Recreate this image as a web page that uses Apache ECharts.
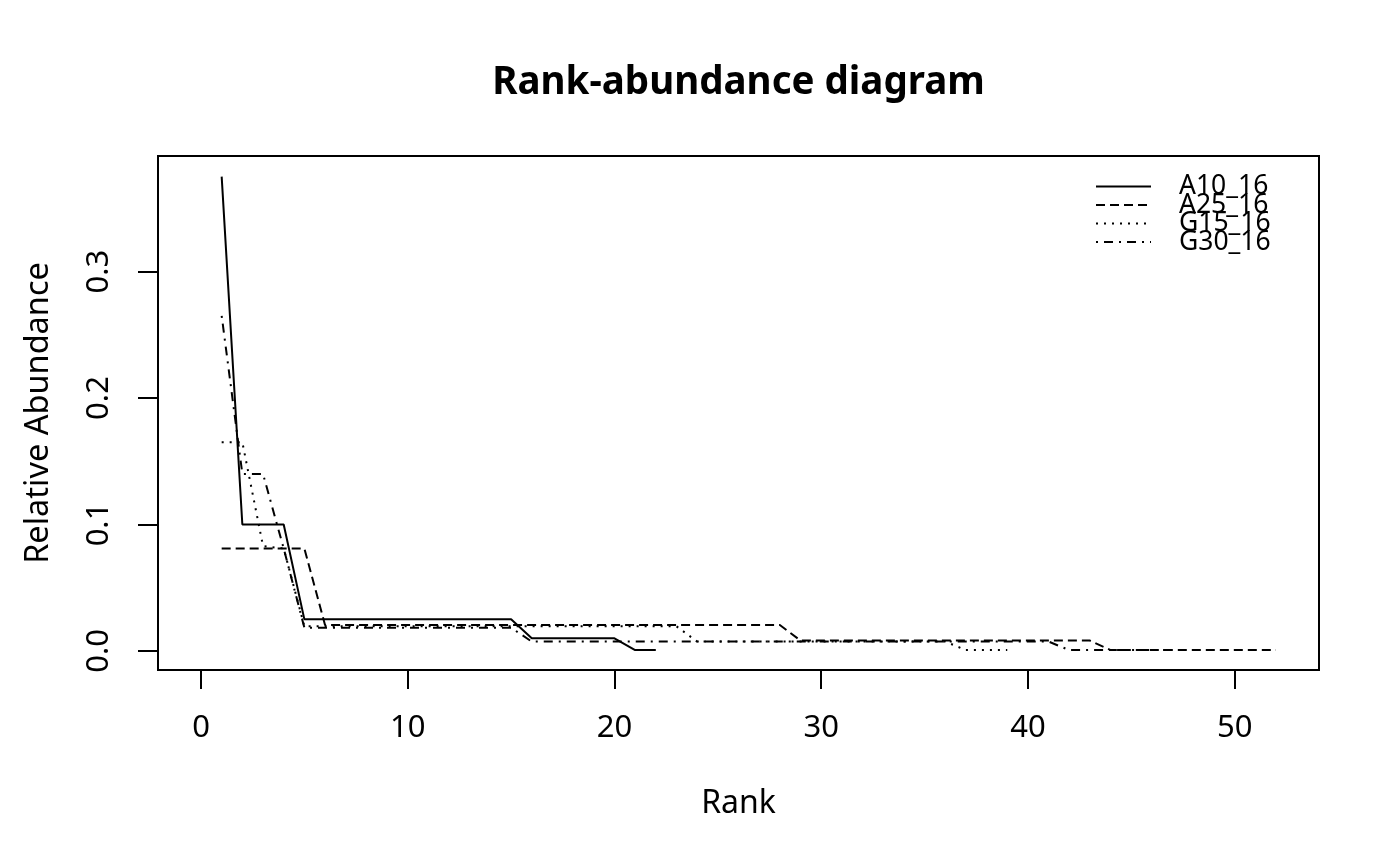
<!DOCTYPE html>
<html>
<head>
<meta charset="utf-8">
<script src="https://cdn.jsdelivr.net/npm/echarts@6/dist/echarts.min.js"></script>
<style>
html,body{margin:0;padding:0;background:#fff;}
#chart{width:1400px;height:866px;}
</style>
</head>
<body>
<div id="chart"></div>
<script>
// ---- data ----
const seriesNames = ['A10_16', 'A25_16', 'G15_16', 'G30_16'];

const A10_16 = [0.375, 0.1, 0.1, 0.1,
  0.025, 0.025, 0.025, 0.025, 0.025, 0.025, 0.025, 0.025, 0.025, 0.025, 0.025,
  0.01, 0.01, 0.01, 0.01, 0.01,
  0.0007, 0.0007];

const A25_16 = [0.081, 0.081, 0.081, 0.081, 0.081,
  0.0205, 0.0205, 0.0205, 0.0205, 0.0205, 0.0205, 0.0205, 0.0205, 0.0205, 0.0205,
  0.0205, 0.0205, 0.0205, 0.0205, 0.0205, 0.0205, 0.0205, 0.0205, 0.0205, 0.0205,
  0.0205, 0.0205, 0.0205,
  0.0082, 0.0082, 0.0082, 0.0082, 0.0082, 0.0082, 0.0082, 0.0082, 0.0082, 0.0082,
  0.0082, 0.0082, 0.0082, 0.0082, 0.0082,
  0.0007, 0.0007, 0.0007, 0.0007, 0.0007, 0.0007, 0.0007, 0.0007, 0.0007];

const G15_16 = [0.165, 0.165, 0.083, 0.081,
  0.0195, 0.0195, 0.0195, 0.0195, 0.0195, 0.0195, 0.0195, 0.0195, 0.0195, 0.0195,
  0.0195, 0.0195, 0.0195, 0.0195, 0.0195, 0.0195, 0.0195, 0.0195, 0.0195,
  0.0074, 0.0074, 0.0074, 0.0074, 0.0074, 0.0074, 0.0074, 0.0074, 0.0074, 0.0074,
  0.0074, 0.0074, 0.0074,
  0.0007, 0.0007, 0.0007];

const G30_16 = [0.265, 0.14, 0.14, 0.081,
  0.0184, 0.0184, 0.0184, 0.0184, 0.0184, 0.0184, 0.0184, 0.0184, 0.0184, 0.0184, 0.0184,
  0.0074, 0.0074, 0.0074, 0.0074, 0.0074, 0.0074, 0.0074, 0.0074, 0.0074, 0.0074,
  0.0074, 0.0074, 0.0074, 0.0074, 0.0074, 0.0074, 0.0074, 0.0074, 0.0074, 0.0074,
  0.0074, 0.0074, 0.0074, 0.0074, 0.0074, 0.0074,
  0.0007, 0.0007, 0.0007, 0.0007, 0.0007, 0.0007];

const xTicks = [0, 10, 20, 30, 40, 50];
const yTicks = [0, 0.1, 0.2, 0.3];
const yTickLabels = ['0.0', '0.1', '0.2', '0.3'];

// ---- chart ----
const FONT = 'Noto Sans';
const values = [A10_16, A25_16, G15_16, G30_16];
const dashes = ['solid', [9, 5], [2, 6], [2, 6, 9, 6]];

const chart = echarts.init(document.getElementById('chart'), null, {renderer: 'canvas'});

const series = seriesNames.map((name, i) => ({
  name: name,
  type: 'line',
  symbol: 'none',
  showSymbol: false,
  data: values[i].map((v, k) => [k + 1, v]),
  lineStyle: {color: '#000', width: 2, type: dashes[i]},
  itemStyle: {color: '#000'},
  emphasis: {disabled: true},
  animation: false
}));

chart.setOption({
  animation: false,
  backgroundColor: '#fff',
  textStyle: {fontFamily: FONT, color: '#000'},
  title: {
    text: 'Rank-abundance diagram',
    left: 733.5,
    textAlign: 'center',
    top: 55,
    textStyle: {fontFamily: FONT, fontSize: 38.5, fontWeight: 'bold', color: '#000', lineHeight: 46}
  },
  grid: {
    left: 158, right: 81, top: 156, bottom: 196,
    show: true, borderColor: '#000', borderWidth: 2, backgroundColor: 'transparent'
  },
  legend: {
    orient: 'vertical',
    left: 1095,
    top: 173,
    padding: 0,
    itemWidth: 55,
    itemHeight: 18,
    itemGap: -8.5,
    selectedMode: false,
    data: seriesNames,
    itemStyle: {opacity: 0},
    textStyle: {fontFamily: FONT, fontSize: 26.5, color: '#000', lineHeight: 18, padding: [0, 0, 0, 23]}
  },
  xAxis: {
    type: 'value',
    min: -2.08,
    max: 54.08,
    name: 'Rank',
    nameLocation: 'middle',
    nameGap: 118,
    nameTextStyle: {fontFamily: FONT, fontSize: 32, color: '#000', lineHeight: 32},
    axisLine: {show: true, onZero: false, lineStyle: {color: '#000', width: 2}},
    axisTick: {show: true, length: 19, lineStyle: {color: '#000', width: 2}, customValues: xTicks},
    axisLabel: {show: true, margin: 43, fontFamily: FONT, fontSize: 31, color: '#000', lineHeight: 31,
      customValues: xTicks, formatter: v => String(v)},
    splitLine: {show: false}
  },
  yAxis: {
    type: 'value',
    min: -0.01505,
    max: 0.39135,
    name: 'Relative Abundance',
    nameLocation: 'middle',
    nameGap: 103,
    nameRotate: 90,
    nameTextStyle: {fontFamily: FONT, fontSize: 32.5, color: '#000', lineHeight: 32},
    axisLine: {show: true, onZero: false, lineStyle: {color: '#000', width: 2}},
    axisTick: {show: true, length: 20, lineStyle: {color: '#000', width: 2}, customValues: yTicks},
    axisLabel: {show: true, margin: 43, rotate: 90, fontFamily: FONT, fontSize: 31, color: '#000', lineHeight: 31,
      customValues: yTicks,
      formatter: v => { const i = yTicks.findIndex(t => Math.abs(t - v) < 1e-9); return i >= 0 ? yTickLabels[i] : ''; }},
    splitLine: {show: false}
  },
  series: series
});
</script>
</body>
</html>
